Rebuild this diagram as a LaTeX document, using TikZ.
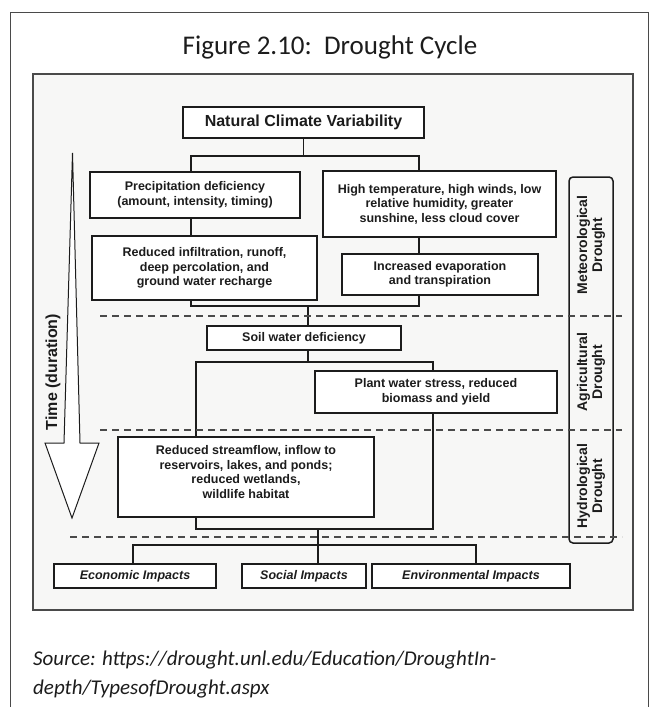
\documentclass[tikz,border=0pt]{standalone}
\usepackage{fontspec}
\setmainfont{Carlito}
\newfontfamily\arialf{Liberation Sans}
\usetikzlibrary{calc}
\definecolor{ink}{HTML}{1C1C1C}
\definecolor{framec}{HTML}{4A4A4A}
\definecolor{photobg}{HTML}{F7F7F6}
\begin{document}
\begin{tikzpicture}[x=1pt,y=-1pt,
  box/.style={draw=ink, line width=1.5pt, fill=white, text=ink, align=center, inner sep=0pt,
    font=\arialf\bfseries\fontsize{12.5}{14.5}\selectfont},
  ibox/.style={box, font=\arialf\bfseries\itshape\fontsize{12.5}{14.5}\selectfont},
  conn/.style={draw=ink, line width=1.5pt},
  sep/.style={draw=framec, line width=1.3pt, dash pattern=on 7pt off 5pt},
  vlabel/.style={rotate=90, align=center, text=ink, inner sep=0pt,
    font=\arialf\bfseries\fontsize{14}{15}\selectfont}]
\useasboundingbox (0,0) rectangle (656,707);
% outer page frame
\draw[framec, line width=0.9pt] (10,707) -- (10,12) -- (648,12) -- (648,707);
\node[font=\fontsize{27}{30}\selectfont, text=ink, anchor=base] (title) at (330,54) {Figure 2.10:\ \ Drought Cycle};
% photo frame
\draw[framec, line width=1.6pt, fill=photobg] (33,74) rectangle (633,610);

% boxes
\node[box, minimum width=241, minimum height=31, font=\arialf\bfseries\fontsize{16}{18}\selectfont] (nat) at (303.5,122.5) {Natural Climate Variability};
\node[box, minimum width=210, minimum height=46] (pd) at (195,195) {Precipitation deficiency\\(amount, intensity, timing)};
\node[box, minimum width=233, minimum height=66] (ht) at (439.5,204) {High temperature, high winds, low\\relative humidity, greater\\sunshine, less cloud cover};
\node[box, minimum width=225, minimum height=64] (ri) at (204.5,268) {Reduced infiltration, runoff,\\deep percolation, and\\ground water recharge};
\node[box, minimum width=196, minimum height=41] (ie) at (440,274.5) {Increased evaporation\\and transpiration};
\node[box, minimum width=194, minimum height=24] (soil) at (304,338) {Soil water deficiency};
\node[box, minimum width=242, minimum height=42] (plant) at (436,392) {Plant water stress, reduced\\biomass and yield};
\node[box, minimum width=256, minimum height=80] (sf) at (246,477) {Reduced streamflow, inflow to\\reservoirs, lakes, and ponds;\\reduced wetlands,\\wildlife habitat\\[-4pt]};
\node[ibox, minimum width=162, minimum height=24] (eco) at (135,576) {Economic Impacts};
\node[ibox, minimum width=124, minimum height=24] (soc) at (304,576) {Social Impacts};
\node[ibox, minimum width=198, minimum height=24] (env) at (471,576) {Environmental Impacts};

% connector guide coordinates
\coordinate (cL) at (191,0);
\coordinate (cR) at (419,0);
\coordinate (cM) at (308,0);
\coordinate (cL2) at (196,0);
\coordinate (cR2) at (433,0);
\coordinate (cS) at (318,0);
\coordinate (cE) at (133,0);
\coordinate (cV) at (476,0);
\coordinate (y1) at (0,156);
\coordinate (y2) at (0,306);
\coordinate (y3) at (0,362);
\coordinate (y4) at (0,529);
\coordinate (y5) at (0,545);

% connectors
\draw[conn] (nat.south) -- (nat.south |- y1);
\draw[conn] (cL |- pd.north) -- (cL |- y1) -- (cR |- y1) -- (cR |- ht.north);
\draw[conn] (cL |- pd.south) -- (cL |- ri.north);
\draw[conn] (cR |- ht.south) -- (cR |- ie.north);
\draw[conn] (cL |- ri.south) -- (cL |- y2) -- (cR |- y2) -- (cR |- ie.south);
\draw[conn] (cM |- y2) -- (cM |- soil.north);
\draw[conn] (cM |- soil.south) -- (cM |- y3);
\draw[conn] (cL2 |- sf.north) -- (cL2 |- y3) -- (cR2 |- y3) -- (cR2 |- plant.north);
\draw[conn] (cL2 |- sf.south) -- (cL2 |- y4) -- (cR2 |- y4) -- (cR2 |- plant.south);
\draw[conn] (cS |- y4) -- (cS |- soc.north);
\draw[conn] (cE |- eco.north) -- (cE |- y5) -- (cV |- y5) -- (cV |- env.north);

% drought-type band
\node[draw=ink, line width=1.5pt, rounded corners=4pt, minimum width=44, minimum height=366, inner sep=0pt] (band) at (591,360) {};
\node[vlabel] (met) at (591,245) {Meteorological\\Drought};
\node[vlabel] (agr) at (591,372) {Agricultural\\Drought};
\node[vlabel] (hyd) at (591,486) {Hydrological\\Drought};

% separators
\draw[sep] (100,316) -- (622,316);
\draw[sep] (100,430) -- (622,430);
\draw[sep] (70,537) -- (622,537);

% time arrow
\draw[ink, line width=1pt, line join=miter, fill=white] (72.5,153) -- (64,443) -- (45,443) -- (72,518) -- (99,443) -- (80,443) -- cycle;
\node[vlabel, font=\arialf\bfseries\fontsize{16}{18}\selectfont] (time) at (53,372) {Time (duration)};

% source
\node[anchor=base west, inner sep=0pt, text=ink, font=\itshape\fontsize{21}{28}\selectfont] (src1) at (33,665) {Source: https://drought.unl.edu/Education/DroughtIn-};
\node[anchor=base west, inner sep=0pt, text=ink, font=\itshape\fontsize{21}{28}\selectfont] (src2) at (33,694) {depth/TypesofDrought.aspx};
\end{tikzpicture}
\end{document}
